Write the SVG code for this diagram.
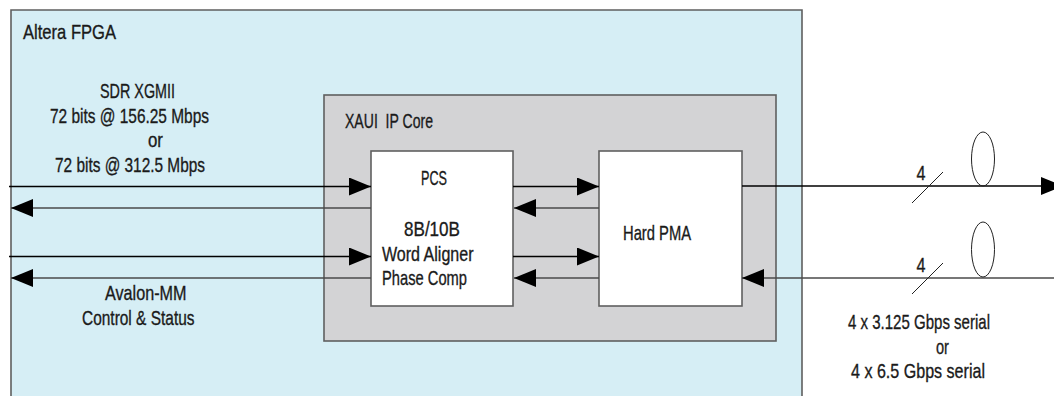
<svg xmlns="http://www.w3.org/2000/svg" width="1054" height="396" viewBox="0 0 1054 396">
<defs>
<style>
text{font-family:"Liberation Sans",Arial,sans-serif;font-size:21px;fill:#1a1a1a;stroke:#1a1a1a;stroke-width:0.35}
.box{stroke:#5f5f5f;stroke-width:1.6}
.in{stroke:#000;stroke-width:1.3;fill:none}
.out{stroke:#4a4a4a;stroke-width:1.3;fill:none}
.thin{stroke:#222;stroke-width:1;fill:none}
</style>
<marker id="ah" viewBox="0 0 22 18" refX="22" refY="9" markerWidth="22" markerHeight="18" markerUnits="userSpaceOnUse" orient="auto">
<path d="M0,0 L22,9 L0,18 Z" fill="#000"/>
</marker>
</defs>
<g id="fpga">
<path d="M11,396 V10 H802 V396" fill="#d6eef5" class="box"/>
<text x="23" y="39" textLength="93" lengthAdjust="spacingAndGlyphs">Altera FPGA</text>
</g>
<g id="xaui">
<rect x="324" y="95" width="452" height="246" fill="#d3d3d5" class="box"/>
<text x="345" y="128" xml:space="preserve" textLength="88" lengthAdjust="spacingAndGlyphs">XAUI  IP Core</text>
</g>
<g id="pcs">
<rect x="371" y="151" width="142" height="155" fill="#fff" class="box"/>
<text x="421" y="185" textLength="26" lengthAdjust="spacingAndGlyphs">PCS</text>
<text x="404" y="236" textLength="56" lengthAdjust="spacingAndGlyphs">8B/10B</text>
<text x="382" y="261" textLength="91.5" lengthAdjust="spacingAndGlyphs">Word Aligner</text>
<text x="382" y="285" textLength="85" lengthAdjust="spacingAndGlyphs">Phase Comp</text>
</g>
<g id="pma">
<rect x="599" y="151" width="143" height="155" fill="#fff" class="box"/>
<text x="623" y="240" textLength="68" lengthAdjust="spacingAndGlyphs">Hard PMA</text>
</g>
<g id="connectors">
<line class="in" x1="9" y1="186.5" x2="371" y2="186.5" marker-end="url(#ah)"/>
<line class="out" x1="371" y1="208" x2="11" y2="208" marker-end="url(#ah)"/>
<line class="in" x1="9" y1="256.5" x2="371" y2="256.5" marker-end="url(#ah)"/>
<line class="out" x1="371" y1="278" x2="11" y2="278" marker-end="url(#ah)"/>
<line class="in" x1="513" y1="186.5" x2="599" y2="186.5" marker-end="url(#ah)"/>
<line class="out" x1="599" y1="208" x2="514" y2="208" marker-end="url(#ah)"/>
<line class="in" x1="513" y1="256.5" x2="599" y2="256.5" marker-end="url(#ah)"/>
<line class="out" x1="599" y1="278" x2="514" y2="278" marker-end="url(#ah)"/>
<line class="in" x1="742" y1="186" x2="1063" y2="186" marker-end="url(#ah)"/>
<line class="out" x1="1054" y1="278" x2="742" y2="278" marker-end="url(#ah)"/>
<line class="thin" x1="912" y1="203" x2="943" y2="172"/>
<line class="thin" x1="912" y1="294" x2="943" y2="263"/>
<ellipse class="thin" cx="983" cy="159" rx="11.5" ry="27"/>
<ellipse class="thin" cx="983" cy="249.5" rx="11.5" ry="27.5"/>
<text x="916.5" y="180" textLength="9" lengthAdjust="spacingAndGlyphs">4</text>
<text x="916.5" y="272" textLength="9" lengthAdjust="spacingAndGlyphs">4</text>
</g>
<g id="labels">
<text x="100" y="98" textLength="75" lengthAdjust="spacingAndGlyphs">SDR XGMII</text>
<text x="50" y="123" textLength="159" lengthAdjust="spacingAndGlyphs">72 bits @ 156.25 Mbps</text>
<text x="148" y="147" textLength="15" lengthAdjust="spacingAndGlyphs">or</text>
<text x="55" y="172" textLength="150" lengthAdjust="spacingAndGlyphs">72 bits @ 312.5 Mbps</text>
<text x="105" y="300" textLength="81.5" lengthAdjust="spacingAndGlyphs">Avalon-MM</text>
<text x="82" y="325" textLength="112.5" lengthAdjust="spacingAndGlyphs">Control &amp; Status</text>
<text x="848" y="329" textLength="142" lengthAdjust="spacingAndGlyphs">4 x 3.125 Gbps serial</text>
<text x="936" y="354" textLength="13" lengthAdjust="spacingAndGlyphs">or</text>
<text x="851" y="378" textLength="134" lengthAdjust="spacingAndGlyphs">4 x 6.5 Gbps serial</text>
</g>
</svg>
